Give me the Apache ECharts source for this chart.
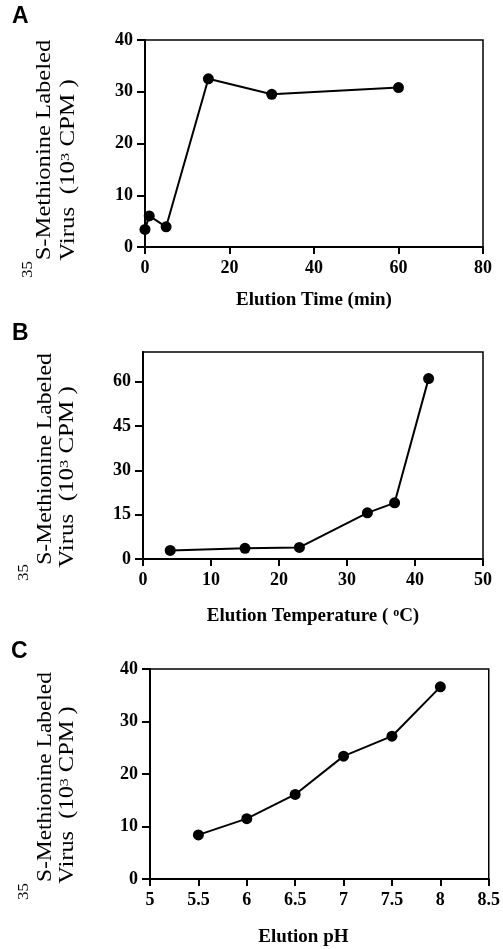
<!DOCTYPE html>
<html>
<head>
<meta charset="utf-8">
<script src="https://cdn.jsdelivr.net/npm/echarts@6/dist/echarts.min.js"></script>
<style>html,body{margin:0;padding:0;background:#fff;}#c{width:503px;height:949px;}</style>
</head>
<body>
<div id="c"></div>
<script>
// Panel A: elution time
const timeA = [0, 1, 5, 15, 30, 60];
const virusA = [3.4, 6.0, 3.9, 32.5, 29.5, 30.8];
// Panel B: elution temperature
const tempB = [4, 15, 23, 33, 37, 42];
const virusB = [2.9, 3.6, 3.9, 15.6, 19.0, 61.0];
// Panel C: elution pH
const phC = [5.5, 6, 6.5, 7, 7.5, 8];
const virusC = [8.4, 11.5, 16.1, 23.4, 27.2, 36.6];
// tick labels for panel B y axis
const ticksBy = [0, 15, 30, 45, 60];

const serif = 'Liberation Serif';
const chart = echarts.init(document.getElementById('c'), null, {renderer: 'canvas'});

function pair(xs, ys) { return xs.map((x, i) => [x, ys[i]]); }

const tickLabel = {color: '#000', fontFamily: serif, fontWeight: 'bold', fontSize: 18};
function xAxis(idx, min, max, interval, name, nameGap, extra) {
  return Object.assign({
    type: 'value', gridIndex: idx, min: min, max: max, interval: interval,
    axisLine: {show: true, onZero: false, lineStyle: {color: '#000', width: 2}},
    axisTick: {show: true, inside: false, length: 7, lineStyle: {color: '#000', width: 2}},
    axisLabel: Object.assign({margin: 12}, tickLabel),
    splitLine: {show: false},
    name: name, nameLocation: 'middle', nameGap: nameGap,
    nameTextStyle: {color: '#000', fontFamily: serif, fontWeight: 'bold', fontSize: 19,
      rich: {b: {fontFamily: serif, fontWeight: 'bold', fontSize: 19, color: '#000'},
             s: {fontFamily: serif, fontWeight: 'bold', fontSize: 12, color: '#000', verticalAlign: 'top'}}}
  }, extra || {});
}
function yAxis(idx, min, max, interval, extra) {
  return Object.assign({
    type: 'value', gridIndex: idx, min: min, max: max, interval: interval,
    axisLine: {show: true, onZero: false, lineStyle: {color: '#000', width: 2}},
    axisTick: {show: true, inside: false, length: 8, lineStyle: {color: '#000', width: 2}},
    axisLabel: Object.assign({margin: 12}, tickLabel),
    splitLine: {show: false}
  }, extra || {});
}
function series(idx, data) {
  return {
    type: 'line', xAxisIndex: idx, yAxisIndex: idx, data: data,
    symbol: 'circle', symbolSize: 11, clip: false,
    lineStyle: {color: '#000', width: 2}, itemStyle: {color: '#000'}
  };
}

const labelRich = {
  n: {fontFamily: serif, fontSize: 20, color: '#000'},
  s: {fontFamily: serif, fontSize: 13, color: '#000', verticalAlign: 'top'}
};
function yTitle(x1, yc1, sx1, x35, y35, x2, yc2, sx2) {
  return [
    {type: 'text', x: x1, y: yc1, rotation: Math.PI / 2, scaleX: sx1,
     style: {text: 'S-Methionine Labeled', fontFamily: serif, fontSize: 20, fill: '#000',
             align: 'center', verticalAlign: 'middle'}},
    {type: 'text', x: x35, y: y35, rotation: Math.PI / 2, scaleX: 1.2,
     style: {text: '35', fontFamily: serif, fontSize: 14, fill: '#000',
             align: 'left', verticalAlign: 'middle'}},
    {type: 'text', x: x2, y: yc2, rotation: Math.PI / 2, scaleX: sx2,
     style: {text: '{n|Virus  (10}{s|3}{n| CPM )}', rich: labelRich, fill: '#000',
             align: 'center', verticalAlign: 'middle'}}
  ];
}
function letter(t, x, y) {
  return {type: 'text', x: x, y: y,
    style: {text: t, fontFamily: 'Liberation Sans', fontWeight: 'bold', fontSize: 23, fill: '#000',
            align: 'left', verticalAlign: 'top'}};
}

const option = {
  backgroundColor: '#fff',
  animation: false,
  grid: [
    {left: 145, top: 40, width: 338, height: 207, show: true, borderColor: '#000', borderWidth: 1.5, containLabel: false},
    {left: 143, top: 352, width: 340, height: 207, show: true, borderColor: '#000', borderWidth: 1.5, containLabel: false},
    {left: 150, top: 669, width: 339, height: 210, show: true, borderColor: '#000', borderWidth: 1.5, containLabel: false}
  ],
  xAxis: [
    xAxis(0, 0, 80, 20, 'Elution Time (min)', 44),
    xAxis(1, 0, 50, 10, '{b|Elution Temperature ( }{s|o}{b|C)}', 48),
    xAxis(2, 5, 8.5, 0.5, 'Elution pH', 49, {nameTextStyle: {color: '#000', fontFamily: serif, fontWeight: 'bold', fontSize: 19, padding: [0, 32, 0, 0]}})
  ],
  yAxis: [
    yAxis(0, 0, 40, 10),
    yAxis(1, 0, 70, 15, {
      axisTick: {show: true, inside: false, length: 8, lineStyle: {color: '#000', width: 2}, customValues: ticksBy},
      axisLabel: Object.assign({margin: 12, customValues: ticksBy}, tickLabel)
    }),
    yAxis(2, 0, 40, 10)
  ],
  series: [
    series(0, pair(timeA, virusA)),
    series(1, pair(tempB, virusB)),
    series(2, pair(phC, virusC))
  ],
  graphic: [].concat(
    [letter('A', 12, 5), letter('B', 12, 322), letter('C', 11, 640)],
    yTitle(45, 150, 1.23, 28, 278, 69, 170, 1.25),
    yTitle(45.5, 459, 1.18, 24, 581, 68, 477, 1.25),
    yTitle(45.5, 777, 1.17, 24, 900, 68, 795, 1.22)
  )
};
chart.setOption(option);
</script>
</body>
</html>
